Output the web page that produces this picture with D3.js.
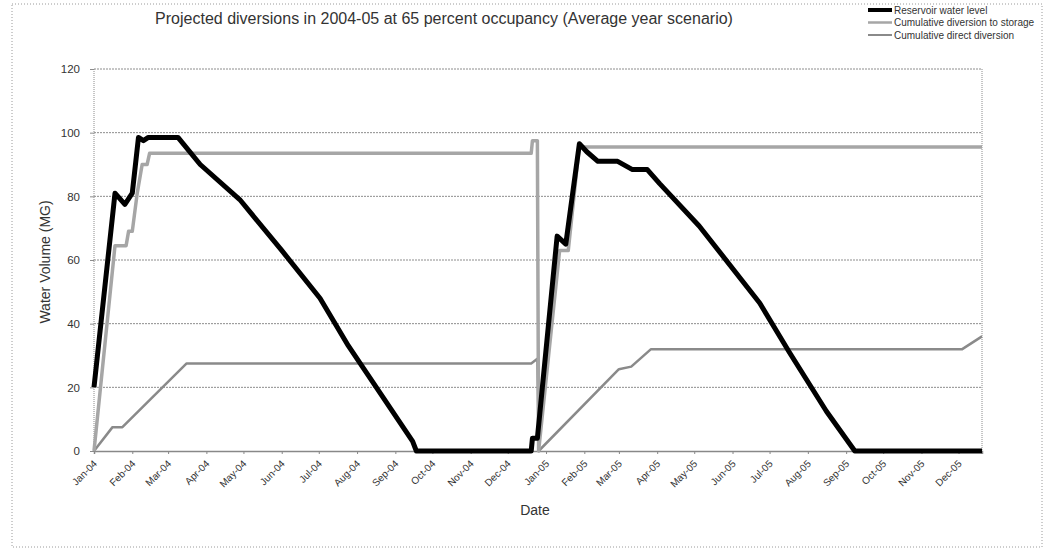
<!DOCTYPE html>
<html>
<head>
<meta charset="utf-8">
<script src="https://cdn.jsdelivr.net/npm/d3@7"></script>
<style>
  html, body { margin: 0; padding: 0; background: #fff; }
  svg { display: block; font-family: "Liberation Sans", Arial, sans-serif; }
</style>
</head>
<body>
<svg id="chart" width="1050" height="550"></svg>
<script>
// ---------- DATA ----------
const chartTitle = "Projected diversions in 2004-05 at 65 percent occupancy (Average year scenario)";
const xAxisTitle = "Date";
const yAxisTitle = "Water Volume (MG)";
const seriesNames = ["Reservoir water level", "Cumulative diversion to storage", "Cumulative direct diversion"];
const yTicks = [0, 20, 40, 60, 80, 100, 120];
const xDomainDates = ["2004-01-01", "2005-12-20"];

const reservoirDates = ["2004-01-01","2004-01-18","2004-01-26","2004-02-01","2004-02-06","2004-02-10","2004-02-14","2004-03-09","2004-03-27","2004-04-28","2004-06-01","2004-07-02","2004-07-25","2004-08-20","2004-09-15","2004-09-18","2004-12-20","2004-12-21","2004-12-25","2005-01-10","2005-01-17","2005-01-28","2005-02-03","2005-02-12","2005-02-28","2005-03-12","2005-03-24","2005-04-03","2005-05-05","2005-06-23","2005-07-17","2005-08-16","2005-09-08","2005-12-20"];
const reservoirValues = [20,81,77.5,81,98.5,97.5,98.5,98.5,90,79,63,48,33,18,3,0,0,4,4,67.5,65,96.5,94,91,91,88.4,88.4,84,70.7,46.5,31,12.5,0,0];

const storageDates = ["2004-01-01","2004-01-18","2004-01-27","2004-01-29","2004-02-01","2004-02-05","2004-02-09","2004-02-13","2004-02-15","2004-12-20","2004-12-21","2004-12-25","2004-12-26","2005-01-12","2005-01-19","2005-01-28","2005-02-01","2005-12-20"];
const storageValues = [0,64.5,64.5,69,69,81,90,90,93.5,93.5,97.5,97.5,0,63,63,96,95.5,95.5];

const directDates = ["2004-01-01","2004-01-16","2004-01-24","2004-03-16","2004-12-20","2004-12-25","2004-12-26","2005-03-01","2005-03-11","2005-03-27","2005-12-04","2005-12-20"];
const directValues = [0,7.5,7.5,27.5,27.5,29,0,25.7,26.5,32,32,36];

// ---------- LAYOUT ----------
const svg = d3.select("#chart");
const parse = d3.timeParse("%Y-%m-%d");
const plot = { left: 94, right: 982, top: 69, bottom: 451 };

const x = d3.scaleTime().domain(xDomainDates.map(parse)).range([plot.left, plot.right]);
const y = d3.scaleLinear().domain([0, 120]).range([plot.bottom, plot.top]);

// outer frame
svg.append("rect").attr("x", 12).attr("y", 4).attr("width", 1030).attr("height", 543)
  .attr("fill", "none").attr("stroke", "#9a9a9a").attr("stroke-width", 1).attr("stroke-dasharray", "1,2");

// gridlines
svg.append("g").selectAll("line").data(yTicks.filter(d => d > 0)).join("line")
  .attr("x1", plot.left).attr("x2", plot.right)
  .attr("y1", d => y(d)).attr("y2", d => y(d))
  .attr("stroke", "#8c8c8c").attr("stroke-width", 1).attr("stroke-dasharray", "2,1");

// plot frame left/right
svg.append("line").attr("x1", plot.left).attr("x2", plot.left).attr("y1", plot.top).attr("y2", plot.bottom)
  .attr("stroke", "#8c8c8c").attr("stroke-dasharray", "1,1");
svg.append("line").attr("x1", plot.right).attr("x2", plot.right).attr("y1", plot.top).attr("y2", plot.bottom)
  .attr("stroke", "#8c8c8c").attr("stroke-dasharray", "1,1");

// y axis
const yAxis = d3.axisLeft(y).tickValues(yTicks).tickSize(4).tickFormat(d3.format("d"));
const gy = svg.append("g").attr("transform", `translate(${plot.left},0)`).call(yAxis);
gy.select(".domain").remove();
gy.selectAll(".tick line").attr("stroke", "#8c8c8c");
gy.selectAll(".tick text").attr("font-size", 11.5).attr("fill", "#333").attr("x", -14)
  .attr("font-family", "Liberation Sans, Arial, sans-serif");

// x axis
const monthTicks = d3.timeMonth.range(parse("2004-01-01"), parse("2005-12-02"));
const xAxis = d3.axisBottom(x).tickValues(monthTicks).tickFormat(d3.timeFormat("%b-%y")).tickSize(3);
const gx = svg.append("g").attr("transform", `translate(0,${plot.bottom})`).call(xAxis);
gx.select(".domain").attr("stroke", "#888").attr("stroke-width", 1.5);
gx.selectAll(".tick line").attr("stroke", "#888");
gx.selectAll(".tick text")
  .attr("font-size", 10).attr("fill", "#333")
  .attr("font-family", "Liberation Sans, Arial, sans-serif")
  .attr("text-anchor", "end")
  .attr("transform", "translate(-2,8) rotate(-45)")
  .attr("dy", "0.35em").attr("y", 4);

// lines
const line = d3.line().x(d => x(d[0])).y(d => y(d[1]));
const series = [
  { dates: directDates, values: directValues, color: "#8a8a8a", width: 2.5 },
  { dates: storageDates, values: storageValues, color: "#a6a6a6", width: 3.5 },
  { dates: reservoirDates, values: reservoirValues, color: "#000", width: 5 }
];
series.forEach(s => {
  const pts = s.dates.map((d, i) => [parse(d), s.values[i]]);
  svg.append("path").datum(pts).attr("d", line)
    .attr("fill", "none").attr("stroke", s.color).attr("stroke-width", s.width)
    .attr("stroke-linejoin", "round");
});

// titles
svg.append("text").attr("x", 444).attr("y", 24).attr("text-anchor", "middle")
  .attr("font-size", 16).attr("fill", "#333").text(chartTitle);
svg.append("text").attr("x", 535).attr("y", 515).attr("text-anchor", "middle")
  .attr("font-size", 14).attr("fill", "#333").text(xAxisTitle);
svg.append("text").attr("transform", "translate(50,262) rotate(-90)").attr("text-anchor", "middle")
  .attr("font-size", 14).attr("fill", "#333").text(yAxisTitle);

// legend
const legendStyles = [
  { color: "#000", width: 4 },
  { color: "#a6a6a6", width: 2.5 },
  { color: "#8a8a8a", width: 2 }
];
const lg = svg.append("g").attr("transform", "translate(868,10)");
seriesNames.forEach((name, i) => {
  const gy0 = i * 12.5;
  lg.append("line").attr("x1", 0).attr("x2", 24).attr("y1", gy0).attr("y2", gy0)
    .attr("stroke", legendStyles[i].color).attr("stroke-width", legendStyles[i].width);
  lg.append("text").attr("x", 26).attr("y", gy0 + 3.5).attr("font-size", 10).attr("fill", "#333").text(name);
});
</script>
</body>
</html>
